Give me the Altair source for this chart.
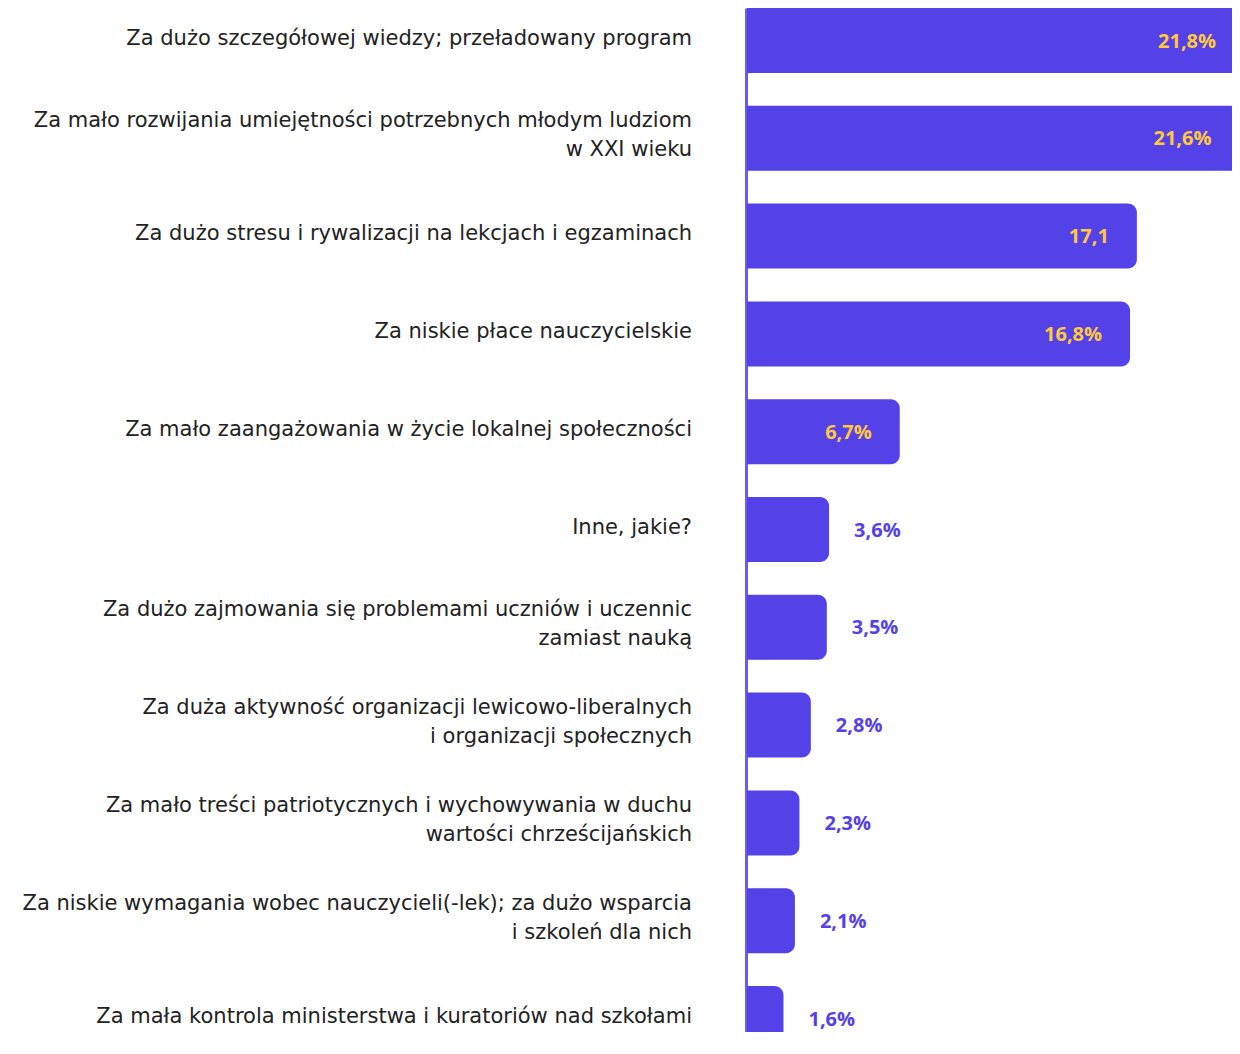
import altair as alt
import pandas as pd

labels = [
    "Za dużo szczegółowej wiedzy; przeładowany program",
    "Za mało rozwijania umiejętności potrzebnych młodym ludziom|w XXI wieku",
    "Za dużo stresu i rywalizacji na lekcjach i egzaminach",
    "Za niskie płace nauczycielskie",
    "Za mało zaangażowania w życie lokalnej społeczności",
    "Inne, jakie?",
    "Za dużo zajmowania się problemami uczniów i uczennic|zamiast nauką",
    "Za duża aktywność organizacji lewicowo-liberalnych|i organizacji społecznych",
    "Za mało treści patriotycznych i wychowywania w duchu|wartości chrześcijańskich",
    "Za niskie wymagania wobec nauczycieli(-lek); za dużo wsparcia|i szkoleń dla nich",
    "Za mała kontrola ministerstwa i kuratoriów nad szkołami",
]
values = [21.8, 21.6, 17.1, 16.8, 6.7, 3.6, 3.5, 2.8, 2.3, 2.1, 1.6]
value_texts = ["21,8%", "21,6%", "17,1", "16,8%", "6,7%", "3,6%", "3,5%", "2,8%", "2,3%", "2,1%", "1,6%"]

df = pd.DataFrame({
    "label": labels,
    "value": values,
    "vtext": value_texts,
    "idx": list(range(len(labels))),
})

W = 485
H = 1024
STEP = 97.8
HALF = 32.5 / STEP
LINE_SHIFT = 15 / STEP
PURPLE = "#5441E8"
YELLOW = "#FFC83D"
FONT = "DejaVu Sans"
VFONT = "Open Sans"

xs = alt.Scale(domain=[0, W / 22.8], nice=False, zero=True, padding=0)
ys = alt.Scale(domain=[-HALF, -HALF + H / STEP], nice=False, zero=False,
               reverse=True, padding=0)

base = alt.Chart(df).transform_calculate(
    y0=f"datum.idx - {HALF}",
    y1=f"datum.idx + {HALF}",
    ly=f"indexof(datum.label, '|') >= 0 ? datum.idx - {LINE_SHIFT} : datum.idx",
)

bars = base.mark_bar(
    color=PURPLE, clip=True, orient="horizontal",
    cornerRadiusTopRight=9, cornerRadiusBottomRight=9,
).encode(
    x=alt.X("value:Q", scale=xs, axis=None),
    x2=alt.datum(0),
    y=alt.Y("y0:Q", scale=ys, axis=alt.Axis(
        labels=False, ticks=False, grid=False, title=None,
        domain=True, domainColor="#6A5CF0", domainWidth=3, offset=1,
    )),
    y2="y1:Q",
)

inside = base.transform_filter("datum.value >= 5").mark_text(
    align="right", baseline="middle", dx=-28, dy=1,
    font=VFONT, fontSize=20, fontWeight="bold", color=YELLOW,
).encode(
    x=alt.X("value:Q", scale=xs),
    y=alt.Y("idx:Q", scale=ys),
    text="vtext:N",
)

outside = base.transform_filter("datum.value < 5").mark_text(
    align="left", baseline="middle", dx=25, dy=1,
    font=VFONT, fontSize=20, fontWeight="bold", color=PURPLE,
).encode(
    x=alt.X("value:Q", scale=xs),
    y=alt.Y("idx:Q", scale=ys),
    text="vtext:N",
)

names = base.mark_text(
    align="right", baseline="middle", dy=-2, lineBreak="|", lineHeight=29,
    font=FONT, fontSize=21, color="#222222",
).encode(
    x=alt.value(-55),
    y=alt.Y("ly:Q", scale=ys),
    text="label:N",
)

chart = alt.layer(bars, inside, outside, names).properties(
    width=W, height=H,
    autosize=alt.AutoSizeParams(type="none"),
    padding={"left": 739, "top": 0, "right": 0, "bottom": 0},
).configure(background="white").configure_view(stroke=None)

chart.save("out.html", embed_options={"renderer": "svg", "actions": False})
